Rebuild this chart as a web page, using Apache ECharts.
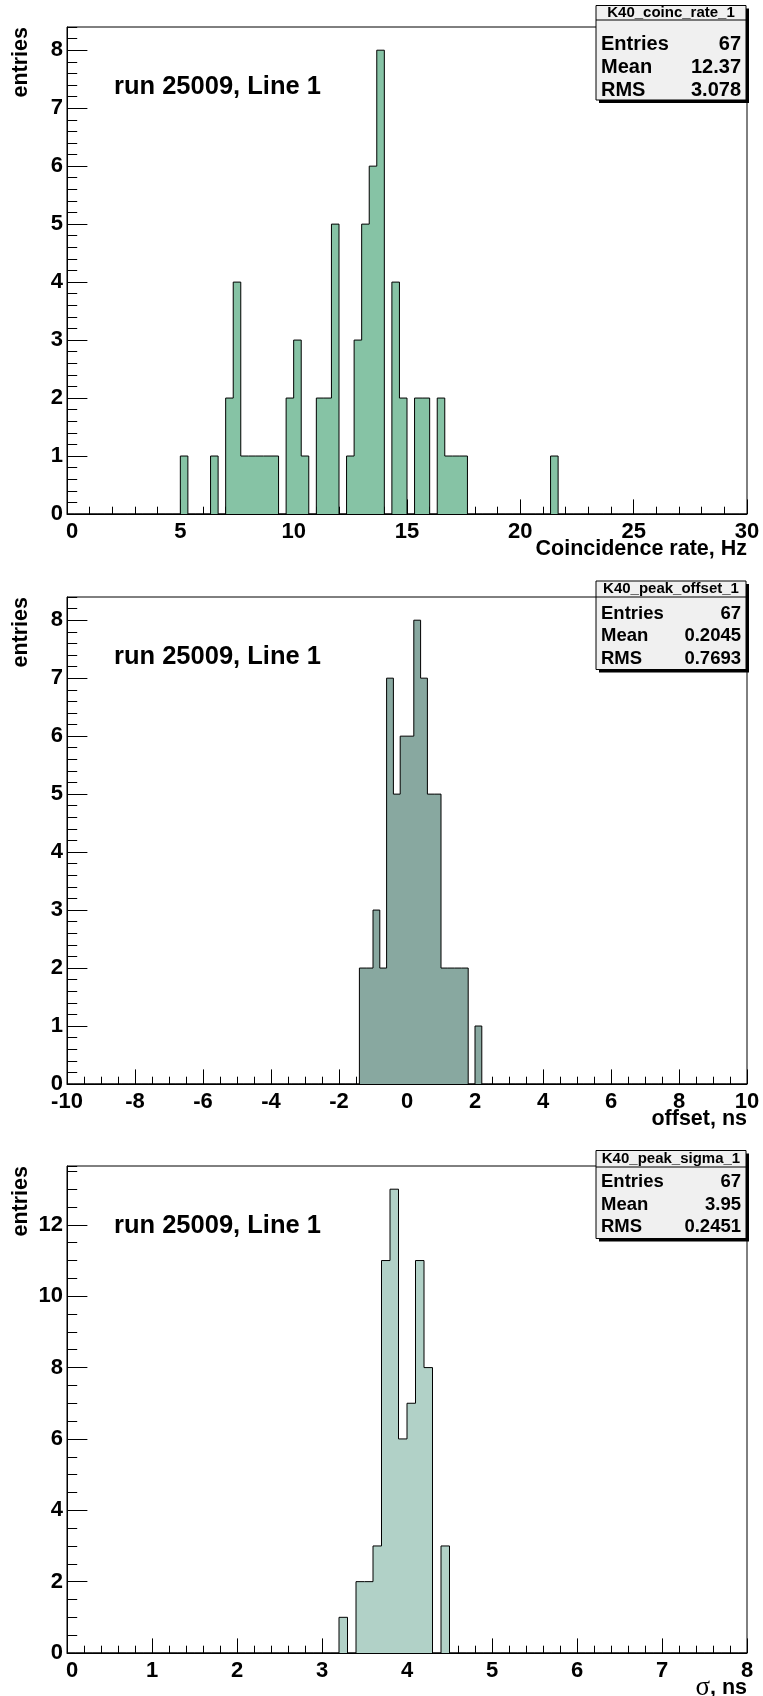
<!DOCTYPE html>
<html>
<head>
<meta charset="utf-8">
<script src="https://cdn.jsdelivr.net/npm/echarts@6/dist/echarts.min.js"></script>
<style>
  html, body { margin: 0; padding: 0; background: #ffffff; }
  #chart { width: 763px; height: 1696px; }
</style>
</head>
<body>
<div id="chart"></div>
<script>
// ---- Histogram contents: occupied bin index and its entry count ----
// K40 coincidence rate: 90 bins on [0, 30] Hz
const rateRange = [0, 30];
const rateNBins = 90;
const rateBin   = [15, 19, 21, 22, 23, 24, 25, 26, 27, 29, 30, 31, 33, 34, 35, 37, 38, 39, 40, 41, 43, 44, 46, 47, 49, 50, 51, 52, 64];
const rateCount = [1, 1, 2, 4, 1, 1, 1, 1, 1, 2, 3, 1, 2, 2, 5, 1, 3, 5, 6, 8, 4, 2, 2, 2, 2, 1, 1, 1, 1];

// K40 peak offset: 100 bins on [-10, 10] ns
const offsetRange = [-10, 10];
const offsetNBins = 100;
const offsetBin   = [43, 44, 45, 46, 47, 48, 49, 50, 51, 52, 53, 54, 55, 56, 57, 58, 60];
const offsetCount = [2, 2, 3, 2, 7, 5, 6, 6, 8, 7, 5, 5, 2, 2, 2, 2, 1];

// K40 peak sigma: 80 bins on [0, 8] ns
const sigmaRange = [0, 8];
const sigmaNBins = 80;
const sigmaBin   = [32, 34, 35, 36, 37, 38, 39, 40, 41, 42, 44];
const sigmaCount = [1, 2, 2, 3, 11, 13, 6, 7, 11, 8, 3];

// Statistics boxes
const histNames   = ['K40_coinc_rate_1', 'K40_peak_offset_1', 'K40_peak_sigma_1'];
const statEntries = ['67', '67', '67'];
const statMean    = ['12.37', '0.2045', '3.95'];
const statRms     = ['3.078', '0.7693', '0.2451'];

// Axis titles and annotation
const xTitles   = ['Coincidence rate, Hz', 'offset, ns', 'σ, ns'];
const yTitle    = 'entries';
const runLabel  = 'run 25009, Line 1';

// Axis scales
const yMax        = [8.4, 8.4, 13.65];
const yMajorStep  = [1, 1, 2];
const yMinorStep  = [0.2, 0.2, 0.5];
const xMajorStep  = [5, 2, 1];
const xMinorSplit = [5, 4, 5];

// ---- Layout ----
const FONT = '"Liberation Sans", Arial, Helvetica, sans-serif';
const fills = ['#86c3a5', '#88a8a0', '#b1d1c7'];
const frameLeft = 67, frameWidth = 680, frameHeight = 487;
const frameTop = [27, 597, 1166];
// the "0" at the origin is nudged right so it clears the y-axis "0"
const nudgeFirstLabel = [true, false, true];
const statBoxes = [
  { top: 5.5,  sep: 20,     bottom: 100,    rows: [44.5, 67.5, 90.5],   font: 20 },
  { top: 581,  sep: 597,    bottom: 669.5,  rows: [613.5, 636, 658.5],  font: 18.5 },
  { top: 1150.5, sep: 1167, bottom: 1238.5, rows: [1182, 1204.5, 1227], font: 18.5 }
];
const statLeft = 596, statRight = 746;

function stepData(range, nbins, bins, counts) {
  const h = new Array(nbins).fill(0);
  bins.forEach((b, i) => { h[b] = counts[i]; });
  const w = (range[1] - range[0]) / nbins;
  const pts = h.map((c, i) => [range[0] + i * w, c]);
  pts.push([range[1], h[nbins - 1]]);
  return pts;
}

const hists = [
  stepData(rateRange, rateNBins, rateBin, rateCount),
  stepData(offsetRange, offsetNBins, offsetBin, offsetCount),
  stepData(sigmaRange, sigmaNBins, sigmaBin, sigmaCount)
];
const xRanges = [rateRange, offsetRange, sigmaRange];

const grids = [], xAxes = [], yAxes = [], series = [], graphics = [];
const labelFont = { color: '#000', fontFamily: FONT, fontWeight: 'bold', fontSize: 22 };

for (let i = 0; i < 3; i++) {
  grids.push({
    left: frameLeft, top: frameTop[i], width: frameWidth, height: frameHeight,
    show: true, borderColor: '#000', borderWidth: 1, backgroundColor: 'transparent'
  });
  const nudge = nudgeFirstLabel[i];
  xAxes.push({
    type: 'value', gridIndex: i, min: xRanges[i][0], max: xRanges[i][1], interval: xMajorStep[i],
    axisLine: { onZero: false, lineStyle: { color: '#000', width: 1 } },
    axisTick: { inside: true, length: 14.6, lineStyle: { color: '#000', width: 1 } },
    minorTick: { show: true, splitNumber: xMinorSplit[i], length: 7.3, lineStyle: { color: '#000', width: 1 } },
    splitLine: { show: false },
    axisLabel: Object.assign({
      margin: 7,
      formatter: (v, idx) => (idx === 0 && nudge) ? '{first|' + v + '}' : String(v),
      rich: { first: Object.assign({ padding: [0, 0, 0, 10] }, labelFont) }
    }, labelFont)
  });
  // labelled major ticks
  yAxes.push({
    type: 'value', gridIndex: i, position: 'left', min: 0, max: yMax[i], interval: yMajorStep[i],
    axisLine: { onZero: false, lineStyle: { color: '#000', width: 1 } },
    axisTick: { inside: true, length: 20.4, lineStyle: { color: '#000', width: 1 } },
    splitLine: { show: false },
    axisLabel: Object.assign({ showMaxLabel: false, margin: 4 }, labelFont)
  });
  // short minor ticks
  yAxes.push({
    type: 'value', gridIndex: i, position: 'left', min: 0, max: yMax[i], interval: yMinorStep[i],
    axisLine: { show: false, onZero: false },
    axisTick: { inside: true, length: 10.2, lineStyle: { color: '#000', width: 1 } },
    axisLabel: { show: false },
    splitLine: { show: false }
  });
  series.push({
    type: 'line', xAxisIndex: i, yAxisIndex: i * 2, step: 'end', symbol: 'none',
    data: hists[i], silent: true,
    lineStyle: { color: '#000', width: 1 },
    areaStyle: { color: fills[i], opacity: 1 }
  });

  // y axis title
  graphics.push({
    type: 'text', x: 21.5, y: frameTop[i], rotation: Math.PI / 2,
    style: { text: yTitle, font: 'bold 21.5px ' + FONT, fill: '#000', align: 'right', verticalAlign: 'middle', textAlign: 'right', textVerticalAlign: 'middle' }
  });
  // x axis title
  const xt = i === 2
    ? { text: '{s|σ}{b|, ns}', rich: { s: { font: '27px "Liberation Serif", "DejaVu Serif", serif', fill: '#000' }, b: { font: 'bold 21.5px ' + FONT, fill: '#000' } } }
    : { text: xTitles[i], font: 'bold 21.5px ' + FONT };
  graphics.push({
    type: 'text', x: frameLeft + frameWidth, y: frameTop[i] + frameHeight + 35,
    style: Object.assign({ fill: '#000', align: 'right', verticalAlign: 'middle', textAlign: 'right', textVerticalAlign: 'middle' }, xt)
  });
  // run annotation
  graphics.push({
    type: 'text', x: 114, y: frameTop[i] + 59.5,
    style: { text: runLabel, font: 'bold 25.5px ' + FONT, fill: '#000', align: 'left', verticalAlign: 'middle', textAlign: 'left', textVerticalAlign: 'middle' }
  });

  // statistics box
  const b = statBoxes[i];
  const w = statRight - statLeft, h = b.bottom - b.top;
  graphics.push({ type: 'rect', z: 100, shape: { x: statLeft + 3, y: b.top + 3, width: w, height: h }, style: { fill: '#000' } });
  graphics.push({ type: 'rect', z: 101, shape: { x: statLeft, y: b.top, width: w, height: h }, style: { fill: '#f0f0f0', stroke: '#000', lineWidth: 1 } });
  graphics.push({ type: 'line', z: 102, shape: { x1: statLeft, y1: b.sep, x2: statRight, y2: b.sep }, style: { stroke: '#000', lineWidth: 1 } });
  graphics.push({
    type: 'text', z: 103, x: (statLeft + statRight) / 2, y: (b.top + b.sep) / 2,
    style: { text: histNames[i], font: 'bold 15px ' + FONT, fill: '#000', align: 'center', verticalAlign: 'middle', textAlign: 'center', textVerticalAlign: 'middle' }
  });
  const names = ['Entries', 'Mean', 'RMS'];
  const vals = [statEntries[i], statMean[i], statRms[i]];
  for (let r = 0; r < 3; r++) {
    graphics.push({
      type: 'text', z: 103, x: statLeft + 5, y: b.rows[r],
      style: { text: names[r], font: 'bold ' + b.font + 'px ' + FONT, fill: '#000', align: 'left', verticalAlign: 'middle', textAlign: 'left', textVerticalAlign: 'middle' }
    });
    graphics.push({
      type: 'text', z: 103, x: statRight - 5, y: b.rows[r],
      style: { text: vals[r], font: 'bold ' + b.font + 'px ' + FONT, fill: '#000', align: 'right', verticalAlign: 'middle', textAlign: 'right', textVerticalAlign: 'middle' }
    });
  }
}

const chart = echarts.init(document.getElementById('chart'), null, { renderer: 'canvas' });
chart.setOption({
  animation: false,
  backgroundColor: '#ffffff',
  grid: grids,
  xAxis: xAxes,
  yAxis: yAxes,
  series: series,
  graphic: { elements: graphics }
});
</script>
</body>
</html>
